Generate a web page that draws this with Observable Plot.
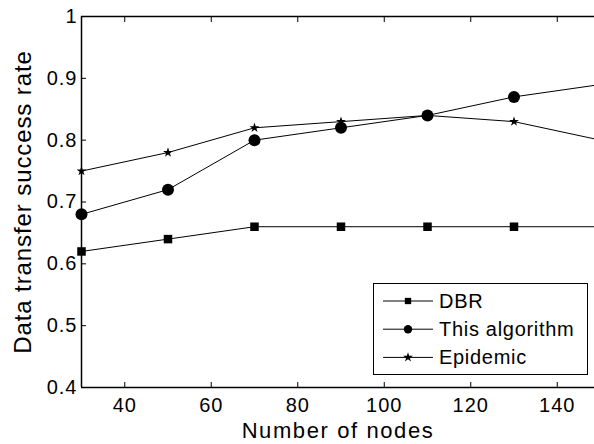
<!DOCTYPE html>
<html><head><meta charset="utf-8">
<script src="https://cdn.jsdelivr.net/npm/d3@7"></script>
<script src="https://cdn.jsdelivr.net/npm/@observablehq/plot@0.6"></script>
<style>
html,body{margin:0;padding:0;background:#fff;overflow:hidden;}
#wrap{position:relative;width:594px;height:444px;overflow:hidden;font-family:"Liberation Sans",Arial,sans-serif;}
#legend{position:absolute;left:0;top:0;}
</style>
</head><body>
<div id="wrap"></div>
<script>
// ---- data ----
const nodes    = [30, 50, 70, 90, 110, 130, 150];
const dbr      = [0.62, 0.64, 0.66, 0.66, 0.66, 0.66, 0.66];
const thisAlg  = [0.68, 0.72, 0.80, 0.82, 0.84, 0.87, 0.89];
const epidemic = [0.75, 0.78, 0.82, 0.83, 0.84, 0.83, 0.80];
const seriesNames = ["DBR", "This algorithm", "Epidemic"];
const seriesSymbols = ["square", "circle", "star"];
const xTicks = [40, 60, 80, 100, 120, 140];
const yTicks = [0.4, 0.5, 0.6, 0.7, 0.8, 0.9, 1];
const xLabel = "Number of nodes";
const yLabel = "Data transfer success rate";

const values = [dbr, thisAlg, epidemic];
const rows = [];
seriesNames.forEach((s, i) => nodes.forEach((n, j) => rows.push({series: s, x: n, y: values[i][j]})));
const bySeries = s => rows.filter(d => d.series === s);

const font = "Liberation Sans, Arial, sans-serif";
const chart = Plot.plot({
  width: 594, height: 444,
  marginLeft: 81, marginTop: 16, marginBottom: 57, marginRight: 0,
  style: {fontFamily: font, background: "white", color: "black"},
  x: {domain: [30, 150], range: [81, 600]},
  y: {domain: [0.4, 1], range: [387, 16]},
  marks: [
    ...seriesNames.map(s => Plot.line(bySeries(s), {x: "x", y: "y", stroke: "black", strokeWidth: 1})),
    Plot.dot(bySeries("DBR"), {x: "x", y: "y", symbol: "square", r: 4.8, fill: "black", stroke: "none"}),
    Plot.dot(bySeries("This algorithm"), {x: "x", y: "y", symbol: "circle", r: 6, fill: "black", stroke: "none"}),
    Plot.dot(bySeries("Epidemic"), {x: "x", y: "y", symbol: "star", r: 3.1, fill: "black", stroke: "none"}),
    Plot.axisX({anchor: "bottom", ticks: xTicks, tickSize: -5, tickPadding: 15,
      label: xLabel, labelAnchor: "center", labelOffset: 50}),
    Plot.axisX({anchor: "top", ticks: xTicks, tickSize: -5, tickFormat: () => "", label: null}),
    Plot.axisY({anchor: "left", ticks: yTicks, tickSize: -5, tickPadding: 9,
      tickFormat: d => d === 1 ? "1" : d.toFixed(1),
      label: yLabel, labelAnchor: "center", labelOffset: 68}),
    Plot.ruleY([0.4, 1], {stroke: "black", strokeWidth: 1.5}),
    Plot.ruleX([30], {stroke: "black", strokeWidth: 1.5})
  ]
});
// text styling, chosen by content: tick labels and axis labels
d3.select(chart).selectAll("text").each(function() {
  const t = this.textContent.replace(/[↑↓←→]/g, "").trim();
  const sel = d3.select(this);
  if (/^[0-9.]+$/.test(t)) {
    sel.style("font-size", "20px").style("letter-spacing", "1px").style("font-family", font);
  } else if (t === xLabel) {
    this.textContent = t;
    sel.style("font-size", "22px").style("letter-spacing", "1.6px").style("font-family", font);
  } else if (t === yLabel) {
    this.textContent = t;
    sel.style("font-size", "24px").style("letter-spacing", "0.9px").style("font-family", font);
  }
});
document.getElementById("wrap").appendChild(chart);

// ---- legend overlay ----
const leg = d3.select("#wrap").append("svg").attr("id", "legend")
  .attr("width", 594).attr("height", 444);
leg.append("rect").attr("x", 373.5).attr("y", 283.5).attr("width", 214).attr("height", 91)
  .attr("fill", "white").attr("stroke", "black").attr("stroke-width", 1);
const legSizes = {square: 40, circle: 55, star: 30};
const symMap = {square: d3.symbolSquare, circle: d3.symbolCircle, star: d3.symbolStar};
seriesNames.forEach((s, i) => {
  const cy = 301 + i * 28.2;
  const g = leg.append("g").attr("transform", `translate(0,${cy})`);
  g.append("line").attr("x1", 383).attr("x2", 433).attr("y1", 0).attr("y2", 0)
    .attr("stroke", "black").attr("stroke-width", 1);
  g.append("path").attr("transform", "translate(408,0)")
    .attr("d", d3.symbol(symMap[seriesSymbols[i]], legSizes[seriesSymbols[i]])())
    .attr("fill", "black");
  g.append("text").attr("x", 439).attr("y", 0).attr("dy", "0.35em")
    .attr("font-family", font).attr("font-size", 20).attr("letter-spacing", "0.7px")
    .attr("fill", "black").text(s);
});
</script>
</body></html>
